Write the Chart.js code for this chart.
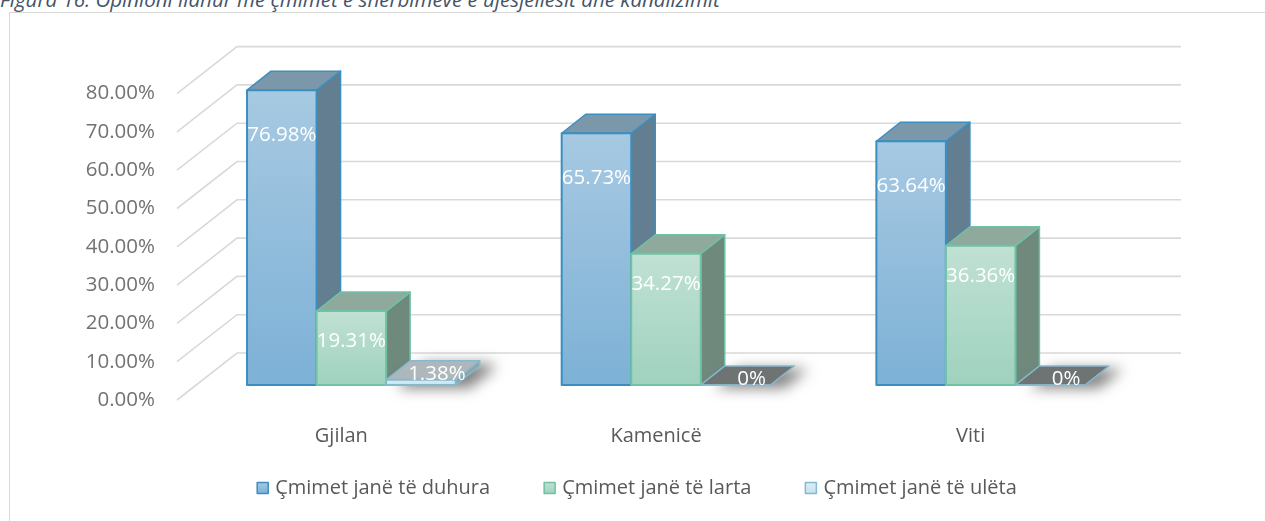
<!DOCTYPE html>
<html><head><meta charset="utf-8">
<script src="https://cdn.jsdelivr.net/npm/chart.js@4"></script>
<style>
html,body{margin:0;padding:0;width:1265px;height:521px;overflow:hidden;background:#fff;}
#title{position:absolute;left:0;top:-12px;font:italic 20.5px 'Open Sans';color:#44546a;white-space:nowrap;line-height:22px}
#frame{position:absolute;left:9px;top:12px;width:1400px;height:700px;border:1px solid #d9d9d9;}
#wrap{position:absolute;left:0;top:0;width:1265px;height:521px}
</style></head><body>
<div id="title">Figura 16: Opinioni ilahur me çmimet e shërbimeve e ujësjellësit dhe kanalizimit</div>
<div id="frame"></div>
<div id="wrap"><canvas id="c" width="1265" height="521"></canvas></div>
<script>
const categories = ['Gjilan', 'Kamenicë', 'Viti'];
const seriesNames = ['Çmimet janë të duhura', 'Çmimet janë të larta', 'Çmimet janë të ulëta'];
const duhura = [76.98, 65.73, 63.64];
const larta = [19.31, 34.27, 36.36];
const uleta = [1.38, 0, 0];
const labelsDuhura = ['76.98%', '65.73%', '63.64%'];
const labelsLarta = ['19.31%', '34.27%', '36.36%'];
const labelsUleta = ['1.38%', '0%', '0%'];
const tickValues = [0, 10, 20, 30, 40, 50, 60, 70, 80];
const tickLabels = ['0.00%', '10.00%', '20.00%', '30.00%', '40.00%', '50.00%', '60.00%', '70.00%', '80.00%'];

const valueLabels = [labelsDuhura, labelsLarta, labelsUleta];
const FONT = "'Open Sans', sans-serif";
const DX = 24, DY = -19;          // bar depth
const BX = 43, BY = -32;          // front plane -> back wall
const FX = -17, FY = 15;          // front plane -> front edge

const styles = [
  { f0: '#a7c9e2', f1: '#7db1d6', edge: '#3a8fc0', top: '#7b98aa', side: '#627e90', lblOff: 45 },
  { f0: '#c0e1d4', f1: '#9fd2be', edge: '#6fc2a4', top: '#8fa99c', side: '#6f897d', lblOff: 30 },
  { f0: '#d8eef7', f1: '#c6e4f0', edge: '#86b9ce', top: '#aeb7bb', side: '#8fa3ab', topZero: '#6e7374', lblOff: 30 }
];

function poly(ctx, pts, fill, stroke, lw) {
  ctx.beginPath();
  ctx.moveTo(pts[0][0], pts[0][1]);
  for (let i = 1; i < pts.length; i++) ctx.lineTo(pts[i][0], pts[i][1]);
  ctx.closePath();
  if (fill) { ctx.fillStyle = fill; ctx.fill(); }
  if (stroke) { ctx.strokeStyle = stroke; ctx.lineWidth = lw || 1.5; ctx.lineJoin = 'round'; ctx.stroke(); }
}

const threeD = {
  id: 'threeD',
  beforeDatasetsDraw(chart) {
    const ctx = chart.ctx, ys = chart.scales.y, xs = chart.scales.x, ca = chart.chartArea;
    ctx.save();
    ctx.strokeStyle = '#d9d9d9';
    ctx.lineWidth = 1.6;
    tickValues.forEach(v => {
      const y = ys.getPixelForValue(v);
      ctx.beginPath();
      ctx.moveTo(ca.left + FX, y + FY);
      ctx.lineTo(ca.left + BX, y + BY);
      ctx.lineTo(ca.right + BX, y + BY);
      ctx.stroke();
    });
    ctx.fillStyle = '#727272';
    ctx.font = '20.5px ' + FONT;
    ctx.textAlign = 'right';
    ctx.textBaseline = 'middle';
    tickValues.forEach((v, i) => {
      ctx.fillText(tickLabels[i], 155, ys.getPixelForValue(v) + FY);
    });
    ctx.textAlign = 'center';
    ctx.fillStyle = '#595959';
    ctx.font = '20px ' + FONT;
    categories.forEach((c, i) => {
      ctx.fillText(c, xs.getPixelForValue(i) - 10, ys.getPixelForValue(0) + 51);
    });
    ctx.restore();
  },
  afterDatasetsDraw(chart) {
    const ctx = chart.ctx;
    ctx.save();
    const n = chart.data.labels.length;
    const metas = chart.data.datasets.map((d, i) => chart.getDatasetMeta(i));
    for (let i = 0; i < n; i++) {
      metas.forEach((meta, d) => {
        const el = meta.data[i];
        const st = styles[d];
        const v = chart.data.datasets[d].data[i];
        const x0 = el.x - el.width / 2, x1 = el.x + el.width / 2;
        const top = el.y, base = el.base;
        if (d === 2) {
          ctx.save();
          ctx.shadowColor = 'rgba(0,0,0,0.5)';
          ctx.shadowBlur = 14;
          ctx.shadowOffsetX = 14;
          ctx.shadowOffsetY = 3;
          poly(ctx, [[x0, base], [x0, top], [x0 + DX, top + DY], [x1 + DX, top + DY], [x1 + DX, base + DY], [x1, base]], '#8a9094');
          ctx.restore();
        }
        if (base - top > 0.5) {
          poly(ctx, [[x1, top], [x1 + DX, top + DY], [x1 + DX, base + DY], [x1, base]], st.side, st.edge, 1.5);
        }
        const topCol = (v === 0 && st.topZero) ? st.topZero : st.top;
        poly(ctx, [[x0, top], [x0 + DX, top + DY], [x1 + DX, top + DY], [x1, top]], topCol, st.edge, 1.5);
        if (base - top > 0.5) {
          const g = ctx.createLinearGradient(0, top, 0, base);
          g.addColorStop(0, st.f0);
          g.addColorStop(1, st.f1);
          poly(ctx, [[x0, top], [x1, top], [x1, base], [x0, base]], g, st.edge, 2);
        } else {
          ctx.strokeStyle = st.edge; ctx.lineWidth = 1.5;
          ctx.beginPath(); ctx.moveTo(x0, base); ctx.lineTo(x1, base); ctx.stroke();
        }
      });
    }
    ctx.fillStyle = '#ffffff';
    ctx.font = '20.5px ' + FONT;
    ctx.textAlign = 'center';
    ctx.textBaseline = 'middle';
    metas.forEach((meta, d) => {
      meta.data.forEach((el, i) => {
        const v = chart.data.datasets[d].data[i];
        let x, y;
        if (v >= 5) { x = el.x; y = el.y + styles[d].lblOff; }
        else { x = el.x + DX / 2 + 4; y = el.y + DY / 2 + 4; }
        ctx.fillText(valueLabels[d][i], x, y);
      });
    });
    ctx.font = '20px ' + FONT;
    ctx.textAlign = 'left';
    const sq = 11, gapSq = 7, gapItem = 54, ly = 488;
    const widths = seriesNames.map(s => ctx.measureText(s).width);
    const total = widths.reduce((a, w) => a + sq + gapSq + w, 0) + gapItem * (seriesNames.length - 1);
    let lx = 637 - total / 2;
    seriesNames.forEach((s, d) => {
      const st = styles[d];
      const g = ctx.createLinearGradient(0, ly - sq / 2, 0, ly + sq / 2);
      g.addColorStop(0, st.f0); g.addColorStop(1, st.f1);
      ctx.fillStyle = g;
      ctx.fillRect(lx, ly - sq / 2, sq, sq);
      ctx.strokeStyle = st.edge; ctx.lineWidth = 1.5;
      ctx.strokeRect(lx, ly - sq / 2, sq, sq);
      ctx.fillStyle = '#595959';
      ctx.fillText(s, lx + sq + gapSq, ly);
      lx += sq + gapSq + widths[d] + gapItem;
    });
    ctx.restore();
  }
};

new Chart(document.getElementById('c'), {
  type: 'bar',
  data: {
    labels: categories,
    datasets: [
      { label: seriesNames[0], data: duhura },
      { label: seriesNames[1], data: larta },
      { label: seriesNames[2], data: uleta }
    ].map(ds => Object.assign(ds, { backgroundColor: 'rgba(0,0,0,0)', borderWidth: 0, categoryPercentage: 0.663, barPercentage: 1 }))
  },
  options: {
    responsive: false,
    animation: false,
    layout: { padding: { left: 194, right: 127, top: 78.6, bottom: 136 } },
    scales: {
      x: { display: false },
      y: { display: false, min: 0, max: 80 }
    },
    plugins: { legend: { display: false }, tooltip: { enabled: false } }
  },
  plugins: [threeD]
});
</script>
</body></html>
